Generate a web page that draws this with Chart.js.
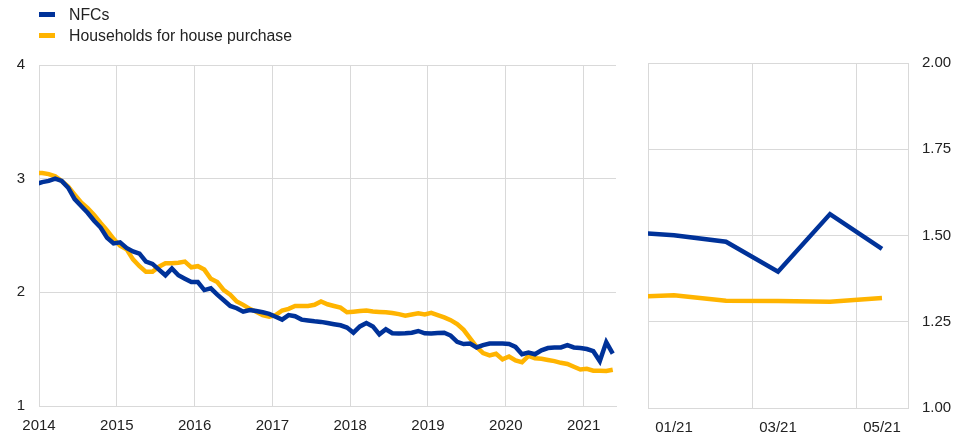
<!DOCTYPE html>
<html>
<head>
<meta charset="utf-8">
<script src="https://cdn.jsdelivr.net/npm/chart.js@4.4.1/dist/chart.umd.min.js"></script>
<style>
    body { margin: 0; background: #fff; font-family: Arial, "Liberation Sans", sans-serif; }
    #wrap { position: relative; width: 968px; height: 446px; }
    .panel { position: absolute; top: 0; height: 446px; }
    #left { left: 0; width: 630px; }
    #right { left: 626px; width: 342px; }
    .legend { position: absolute; left: 39px; top: 4px; font-size: 15.8px; color: #222; }
    .legend div { height: 21px; line-height: 21px; white-space: nowrap; }
    .legend span { display: inline-block; width: 16px; height: 5px; margin-right: 14px; vertical-align: middle; position: relative; top: -1px; }
</style>
</head>
<body>
<div id="wrap">
    <div class="panel" id="left"><canvas id="longChart"></canvas></div>
    <div class="panel" id="right"><canvas id="recentChart"></canvas></div>
    <div class="legend" id="legend"></div>
</div>
<script>
// ================== Data ==================
const startYear = 2014;
const yearLabels = ['2014', '2015', '2016', '2017', '2018', '2019', '2020', '2021'];
const leftTicks = [1, 2, 3, 4];
const rightTicks = [1.00, 1.25, 1.50, 1.75, 2.00];

// monthly, Dec 2013 - May 2021 (Dec 2013 is cut off at the axis edge)
const nfcMonthly = [
    2.95,
    2.97, 2.98, 3.00, 2.98, 2.92, 2.82, 2.76, 2.70, 2.63, 2.57, 2.48, 2.43,
    2.44, 2.39, 2.36, 2.34, 2.27, 2.25, 2.20, 2.15, 2.21, 2.15, 2.12, 2.09,
    2.09, 2.02, 2.035, 1.98, 1.93, 1.88, 1.86, 1.83, 1.845, 1.835, 1.825, 1.81,
    1.785, 1.76, 1.80, 1.79, 1.76, 1.752, 1.745, 1.74, 1.73, 1.72, 1.71, 1.69,
    1.645, 1.70, 1.73, 1.70, 1.63, 1.675, 1.64, 1.638, 1.64, 1.645, 1.66, 1.64,
    1.637, 1.642, 1.645, 1.62, 1.565, 1.545, 1.55, 1.515, 1.535, 1.55, 1.55, 1.55,
    1.545, 1.52, 1.455, 1.47, 1.455, 1.49, 1.51, 1.515, 1.515, 1.535, 1.515, 1.511,
    1.501, 1.482, 1.395, 1.562, 1.461
];
const hhMonthly = [
    3.05,
    3.05, 3.04, 3.02, 2.98, 2.93, 2.86, 2.79, 2.74, 2.68, 2.61, 2.545, 2.47,
    2.41, 2.38, 2.29, 2.23, 2.18, 2.18, 2.225, 2.255, 2.255, 2.26, 2.27, 2.22,
    2.23, 2.20, 2.12, 2.09, 2.02, 1.98, 1.92, 1.89, 1.855, 1.83, 1.80, 1.785,
    1.80, 1.84, 1.855, 1.88, 1.88, 1.88, 1.89, 1.92, 1.895, 1.88, 1.865, 1.825,
    1.83, 1.835, 1.84, 1.832, 1.828, 1.825, 1.818, 1.808, 1.795, 1.805, 1.815, 1.805,
    1.82, 1.80, 1.78, 1.755, 1.72, 1.67, 1.595, 1.52, 1.465, 1.445, 1.46, 1.41,
    1.435, 1.40, 1.385, 1.44, 1.42, 1.415, 1.405, 1.395, 1.38, 1.37, 1.345, 1.321,
    1.327, 1.311, 1.310, 1.308, 1.319
];

// zoomed panel: Dec 2020 sits just outside the axis so the lines run to the edge
const recentLabels = ['12/20', '01/21', '02/21', '03/21', '04/21', '05/21'];
const nfcRecent = nfcMonthly.slice(-recentLabels.length);
const hhRecent = hhMonthly.slice(-recentLabels.length);

const series = [
    { label: 'NFCs', color: '#003299', long: nfcMonthly, recent: nfcRecent },
    { label: 'Households for house purchase', color: '#ffb400', long: hhMonthly, recent: hhRecent }
];

// ================== Shared style ==================
const gridColor = '#d9d9d9';
const tickFont = { family: 'Arial, "Liberation Sans", sans-serif', size: 15 };
const tickColor = '#222';

document.getElementById('legend').innerHTML = series
    .map(s => `<div><span style="background:${s.color}"></span>${s.label}</div>`)
    .join('');

// ================== Long chart ==================
// points sit mid-month, x = months since Jan 2014 (first entry is Dec 2013)
new Chart(document.getElementById('longChart'), {
    type: 'line',
    data: {
        datasets: series.map(s => ({
            label: s.label,
            data: s.long.map((v, i) => ({ x: i - 0.5, y: v })),
            borderColor: s.color,
            borderWidth: 4.5,
            pointRadius: 0,
            tension: 0,
            clip: 0
        }))
    },
    options: {
        responsive: true,
        maintainAspectRatio: false,
        animation: false,
        layout: { padding: { top: 65, right: 14, left: 0, bottom: 0 } },
        plugins: { legend: { display: false }, tooltip: { enabled: false } },
        scales: {
            x: {
                type: 'linear',
                min: 0,
                max: 89,
                afterBuildTicks: axis => { axis.ticks = yearLabels.map((y, i) => ({ value: i * 12 })); },
                afterFit: axis => { axis.height = 40; },
                ticks: {
                    callback: v => String(startYear + v / 12),
                    font: tickFont, color: tickColor, padding: 11, maxRotation: 0, autoSkip: false
                },
                grid: { color: gridColor, drawTicks: false },
                border: { color: gridColor }
            },
            y: {
                min: 1,
                max: 4,
                afterBuildTicks: axis => { axis.ticks = leftTicks.map(v => ({ value: v })); },
                afterFit: axis => { axis.width = 39; },
                ticks: { font: tickFont, color: tickColor, padding: 14 },
                grid: { color: gridColor, drawTicks: false },
                border: { color: gridColor }
            }
        }
    }
});

// ================== Recent chart ==================
new Chart(document.getElementById('recentChart'), {
    type: 'line',
    data: {
        labels: recentLabels,
        datasets: series.map(s => ({
            label: s.label,
            data: s.recent,
            borderColor: s.color,
            borderWidth: 4.5,
            pointRadius: 0,
            tension: 0,
            clip: 0
        }))
    },
    options: {
        responsive: true,
        maintainAspectRatio: false,
        animation: false,
        layout: { padding: { top: 63, right: 0, left: 22, bottom: 0 } },
        plugins: { legend: { display: false }, tooltip: { enabled: false } },
        scales: {
            x: {
                min: '01/21',
                offset: true,
                afterFit: axis => { axis.height = 38; },
                ticks: {
                    callback: function (v, i) { return i % 2 === 0 ? this.getLabelForValue(v) : ''; },
                    font: tickFont, color: tickColor, padding: 11, maxRotation: 0, autoSkip: false
                },
                grid: {
                    offset: true,
                    drawTicks: false,
                    color: ctx => (ctx.index === undefined || ctx.index % 2 === 0) ? gridColor : 'rgba(0,0,0,0)'
                },
                border: { color: gridColor }
            },
            y: {
                position: 'right',
                min: 1,
                max: 2,
                afterBuildTicks: axis => { axis.ticks = rightTicks.map(v => ({ value: v })); },
                afterFit: axis => { axis.width = 60; },
                ticks: { callback: v => v.toFixed(2), font: tickFont, color: tickColor, padding: 14 },
                grid: { color: gridColor, drawTicks: false },
                border: { color: gridColor }
            }
        }
    }
});
</script>
</body>
</html>
